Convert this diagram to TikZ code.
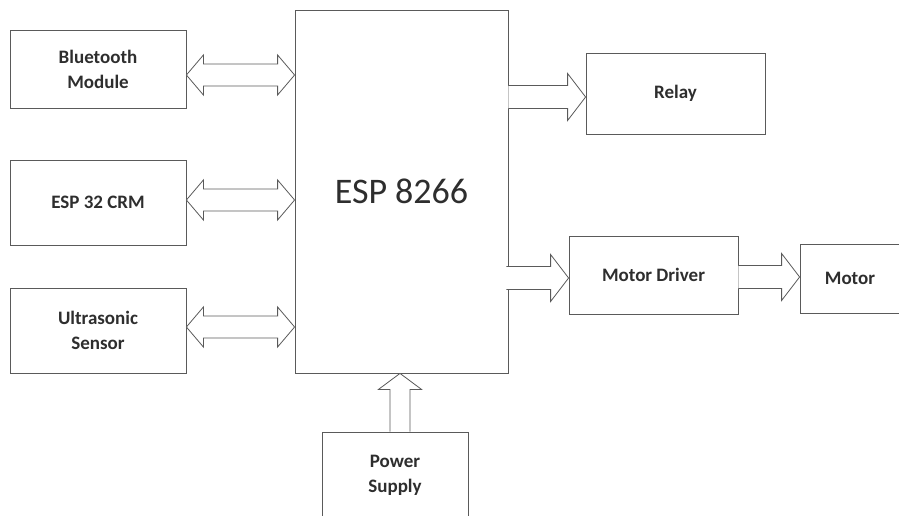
\documentclass[tikz,border=0pt]{standalone}
\usepackage{fontspec}
\setmainfont{Carlito}
\usetikzlibrary{calc}
\definecolor{edge}{HTML}{5A5A5A}
\definecolor{ink}{HTML}{2E2E2E}
\newcommand{\rfat}[2]{\draw[fat] let \p1=(#1), \p2=(#2) in
  (\x1,\y1+11.5pt) -- (\x2-18pt,\y1+11.5pt) -- (\x2-18pt,\y1+23.5pt) -- (\x2,\y1)
  -- (\x2-18pt,\y1-23.5pt) -- (\x2-18pt,\y1-11.5pt) -- (\x1,\y1-11.5pt);}
\newcommand{\dfat}[2]{\draw[fat] let \p1=(#1), \p2=(#2) in
  (\x1,\y1) -- (\x1+17pt,\y1+20pt) -- (\x1+17pt,\y1+11pt) -- (\x2-17pt,\y1+11pt)
  -- (\x2-17pt,\y1+20pt) -- (\x2,\y1) -- (\x2-17pt,\y1-20pt) -- (\x2-17pt,\y1-11pt)
  -- (\x1+17pt,\y1-11pt) -- (\x1+17pt,\y1-20pt) -- cycle;}
\newcommand{\ufat}[2]{\draw[fat] let \p1=(#1), \p2=(#2) in
  (\x1-10pt,\y1) -- (\x1-10pt,\y2-16pt) -- (\x1-21.5pt,\y2-16pt) -- (\x1,\y2)
  -- (\x1+21.5pt,\y2-16pt) -- (\x1+10pt,\y2-16pt) -- (\x1+10pt,\y1);}
\begin{document}
\begin{tikzpicture}[x=1pt, y=-1pt,
    box/.style={draw=edge, line width=0.8pt, fill=white, inner sep=0pt, align=center, text=ink,
        font=\fontsize{19}{25}\selectfont\bfseries},
    fat/.style={draw=edge, line width=0.8pt, fill=white, line join=miter}]
\useasboundingbox (0,0) rectangle (899,515);
\node[box, minimum width=176pt, minimum height=78pt] (bt) at (98,69) {Bluetooth\\Module};
\node[box, minimum width=176pt, minimum height=85pt] (crm) at (98,202.5) {ESP 32 CRM};
\node[box, minimum width=176pt, minimum height=85pt] (us) at (98,330.5) {Ultrasonic\\Sensor};
\node[box, minimum width=213pt, minimum height=363pt, font=\fontsize{36}{40}\selectfont] (esp) at (401.5,191.5) {ESP 8266};
\node[box, minimum width=179pt, minimum height=81pt] (relay) at (675.5,93.5) {Relay};
\node[box, minimum width=169pt, minimum height=78pt] (drv) at (653.5,275) {Motor Driver};
\node[box, minimum width=100pt, minimum height=69pt] (motor) at (850,278.5) {Motor};
\node[box, minimum width=146pt, minimum height=86pt] (pwr) at (395,475) {Power\\Supply};
\dfat{$(bt.east)+(0,6)$}{esp.west}
\dfat{$(crm.east)+(0,-2.5)$}{esp.west}
\dfat{$(us.east)+(0,-3.5)$}{esp.west}
\rfat{$(esp.east|-relay.west)+(0,3.5)$}{relay.west}
\rfat{$(esp.east|-drv.west)+(-2,3)$}{drv.west}
\rfat{$(drv.east)+(0,2)$}{motor.west}
\ufat{$(pwr.north)+(5,0)$}{esp.south}
\end{tikzpicture}
\end{document}
